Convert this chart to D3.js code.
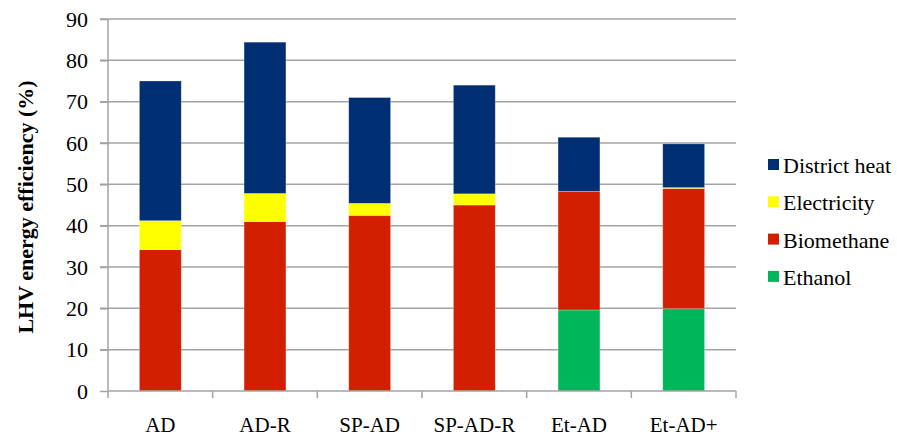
<!DOCTYPE html>
<html><head><meta charset="utf-8">
<script src="https://cdn.jsdelivr.net/npm/d3@7"></script>
<style>body{margin:0;background:#fff}</style>
</head><body>
<svg id="c" width="897" height="436"></svg>
<script>
const categories = ["AD","AD-R","SP-AD","SP-AD-R","Et-AD","Et-AD+"];
const seriesNames = ["Ethanol","Biomethane","Electricity","District heat"];
const ethanol     = [0, 0, 0, 0, 19.6, 19.9];
const biomethane  = [34.2, 41.0, 42.5, 45.0, 28.7, 29.1];
const electricity = [7.0, 6.8, 2.9, 2.7, 0, 0.2];
const districtHeat= [33.8, 36.6, 25.6, 26.3, 13.1, 10.6];
const yTicks = [0,10,20,30,40,50,60,70,80,90];
const colors = {"Ethanol":"#00b65a","Biomethane":"#d11f00","Electricity":"#ffff00","District heat":"#002e73"};
const legendOrder = ["District heat","Electricity","Biomethane","Ethanol"];

const svg = d3.select("#c");
const m = {l:108, r:736, t:19, b:391};
const x = d3.scaleBand().domain(categories).range([m.l, m.r]).paddingInner(0.6).paddingOuter(0.3);
const xOuter = d3.scaleBand().domain(categories).range([m.l, m.r]);
const y = d3.scaleLinear().domain([0,90]).range([m.b, m.t]);
const font = "'Liberation Serif','Times New Roman',serif";
const fs = 22;

// gridlines
svg.append("g").selectAll("line").data(yTicks.filter(d=>d>0)).join("line")
  .attr("x1", m.l-8).attr("x2", m.r).attr("y1", d=>y(d)).attr("y2", d=>y(d))
  .attr("stroke","#a3a3a3").attr("stroke-width",1.5);

// stacked data
const table = categories.map((c,i)=>({cat:c,"Ethanol":ethanol[i],"Biomethane":biomethane[i],"Electricity":electricity[i],"District heat":districtHeat[i]}));
const stack = d3.stack().keys(seriesNames)(table);
svg.append("g").selectAll("g").data(stack).join("g").attr("fill", d=>colors[d.key])
  .selectAll("rect").data(d=>d).join("rect")
  .attr("x", d=>x(d.data.cat)).attr("width", x.bandwidth())
  .attr("y", d=>y(d[1])).attr("height", d=>Math.max(0, y(d[0])-y(d[1])))
  .attr("stroke","rgba(255,255,255,0.35)").attr("stroke-width",0.8);

// y axis
const yAxis = d3.axisLeft(y).tickValues(yTicks).tickSize(8).tickPadding(12);
const ga = svg.append("g").attr("transform",`translate(${m.l},0)`).call(yAxis);
ga.select(".domain").attr("stroke","#a3a3a3").attr("stroke-width",1.5).attr("d",`M0,${m.t}V${m.b}`);
ga.selectAll(".tick line").attr("stroke","#a3a3a3").attr("stroke-width",1.5);
ga.selectAll(".tick text").attr("font-family",font).attr("font-size",fs).attr("fill","#000");

// x axis
const gx = svg.append("g").attr("transform",`translate(0,${m.b})`);
gx.append("line").attr("x1",m.l).attr("x2",m.r).attr("stroke","#a3a3a3").attr("stroke-width",1.5);
const bounds = categories.map(c=>xOuter(c)).concat([m.r]);
gx.selectAll("line.t").data(bounds).join("line").attr("class","t")
  .attr("x1",d=>d).attr("x2",d=>d).attr("y1",0).attr("y2",7)
  .attr("stroke","#a3a3a3").attr("stroke-width",1.5);
gx.selectAll("text").data(categories).join("text")
  .attr("x", d=>xOuter(d)+xOuter.bandwidth()/2).attr("y", 40.5)
  .attr("text-anchor","middle").attr("font-family",font).attr("font-size",21).text(d=>d);

// y title
svg.append("text").attr("transform","translate(33,207) rotate(-90)")
  .attr("text-anchor","middle").attr("font-family",font).attr("font-weight","bold")
  .attr("font-size",fs).text("LHV energy efficiency (%)");

// legend
const lg = svg.append("g").selectAll("g").data(legendOrder).join("g")
  .attr("transform",(d,i)=>`translate(768,${159 + i*37.3})`);
lg.append("rect").attr("width",11).attr("height",11).attr("fill",d=>colors[d]);
lg.append("text").attr("x",15).attr("y",14).attr("font-family",font).attr("font-size",fs).text(d=>d);
</script>
</body></html>
